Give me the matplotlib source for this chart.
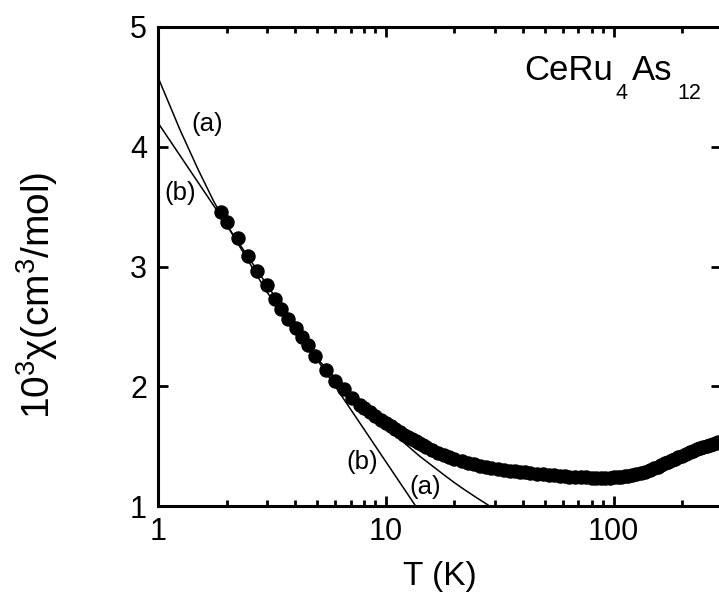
import matplotlib
matplotlib.use("Agg")
import matplotlib.pyplot as plt
from matplotlib.ticker import LogLocator, FixedLocator, NullFormatter, FixedFormatter

plt.rcParams['font.family'] = ['Liberation Sans', 'DejaVu Sans']
plt.rcParams['mathtext.fontset'] = 'custom'
plt.rcParams['mathtext.rm'] = 'Liberation Sans'
plt.rcParams['mathtext.it'] = 'Liberation Sans:italic'
plt.rcParams['mathtext.bf'] = 'Liberation Sans:bold'

# measured susceptibility (low T, discrete points)
T_low = [1.886, 2.004, 2.24, 2.494, 2.733, 3.005, 3.268, 3.473, 3.739, 4.029,
         4.281, 4.532, 4.898, 5.477, 5.998, 6.526, 7.1, 7.72]
chi_low = [3.453, 3.375, 3.236, 3.09, 2.961, 2.842, 2.731, 2.647, 2.564, 2.489,
           2.411, 2.342, 2.253, 2.133, 2.044, 1.975, 1.906, 1.842]

# measured susceptibility (dense part)
T_high = [8.0, 8.5, 9.0, 9.5, 10, 10.5, 11, 11.5, 12, 12.5, 13, 13.5, 14, 14.5, 15,
          16, 17, 18, 19, 20, 21.5, 23, 24.5, 26, 27.5, 29, 31, 33, 35, 37, 39, 41,
          43, 46, 49, 52, 55, 58, 61, 64, 68, 72, 76, 80, 84, 88, 92, 96, 100, 104,
          108, 112, 116, 120, 126, 132, 138, 144, 150, 156, 162, 168, 174, 180, 186,
          192, 200, 208, 216, 224, 232, 240, 248, 256, 264, 272, 280, 288, 296, 304]
chi_high = [1.818, 1.785, 1.752, 1.722, 1.693, 1.665, 1.640, 1.617, 1.595, 1.575,
            1.557, 1.540, 1.524, 1.509, 1.494, 1.466, 1.446, 1.427, 1.410, 1.393,
            1.375, 1.360, 1.347, 1.336, 1.326, 1.318, 1.309, 1.302, 1.296, 1.290,
            1.285, 1.281, 1.277, 1.270, 1.264, 1.259, 1.255, 1.251, 1.248, 1.245,
            1.242, 1.240, 1.238, 1.237, 1.236, 1.236, 1.236, 1.237, 1.238, 1.240,
            1.243, 1.247, 1.251, 1.256, 1.265, 1.276, 1.288, 1.301, 1.315, 1.328,
            1.342, 1.356, 1.369, 1.382, 1.394, 1.406, 1.421, 1.435, 1.449, 1.462,
            1.474, 1.485, 1.495, 1.504, 1.512, 1.520, 1.527, 1.533, 1.538, 1.543]

# fit curve (a)
T_fit_a = [1.0, 1.25, 1.5, 1.75, 2.0, 3.0, 4.0, 5.0, 7.0, 10, 12, 14, 16, 18, 20, 22, 25, 28, 30]
chi_fit_a = [4.58, 4.14, 3.81, 3.55, 3.35, 2.79, 2.46, 2.23, 1.93, 1.65, 1.53, 1.42,
             1.335, 1.26, 1.195, 1.14, 1.07, 1.01, 0.975]
# fit line (b)
T_fit_b = [1.0, 14.0]
chi_fit_b = [4.2, 0.957]

fig = plt.figure(figsize=(7.19, 5.94), dpi=100)
W, H = 719, 594
ax = fig.add_axes([158 / W, 1 - 506 / H, (721 - 158) / W, (506 - 27) / H])

ax.plot(T_fit_a, chi_fit_a, color='black', lw=1.1, zorder=2)
ax.plot(T_fit_b, chi_fit_b, color='black', lw=1.1, zorder=2)
ax.plot(T_low, chi_low, 'o', color='black', ms=9.4, mec='black', zorder=3)
ax.plot(T_high, chi_high, 'o', color='black', ms=9.4, mec='black', zorder=3)

ax.set_xscale('log')
ax.set_xlim(1, 296)
ax.set_ylim(1, 5)

ax.xaxis.set_major_locator(FixedLocator([1, 10, 100]))
ax.xaxis.set_major_formatter(FixedFormatter(['1', '10', '100']))
ax.xaxis.set_minor_locator(LogLocator(base=10, subs=(2, 3, 4, 5, 6, 7, 8, 9), numticks=10))
ax.xaxis.set_minor_formatter(NullFormatter())
ax.yaxis.set_major_locator(FixedLocator([1, 2, 3, 4, 5]))

for s in ax.spines.values():
    s.set_linewidth(2.2)
ax.tick_params(which='both', direction='in', top=True, right=True, width=2.0,
               labelsize=22, colors='black')
ax.tick_params(which='major', length=7, pad=8)
ax.tick_params(which='minor', length=4)

ax.set_xlabel('T (K)', fontsize=24, labelpad=10)
fig.text(37 / W, 1 - 295 / H, r'10$^3$χ(cm$^3$/mol)', fontsize=28, rotation=90,
         ha='center', va='center')

ax.text(1.642, 4.19, '(a)', fontsize=18.5, ha='center', va='center')
ax.text(1.249, 3.61, '(b)', fontsize=18.5, ha='center', va='center')
ax.text(7.86, 1.37, '(b)', fontsize=18.5, ha='center', va='center')
ax.text(14.9, 1.158, '(a)', fontsize=18.5, ha='center', va='center')

# compound name with Origin-style low subscripts
fig.text(613 / W, 1 - 80 / H, 'CeRu', fontsize=25, ha='right', va='baseline')
fig.text(615 / W, 1 - 99 / H, '4', fontsize=15.5, ha='left', va='baseline')
fig.text(632 / W, 1 - 80 / H, 'As', fontsize=25, ha='left', va='baseline')
fig.text(677 / W, 1 - 99 / H, '12', fontsize=15.5, ha='left', va='baseline')

fig.savefig('out.png', dpi=100)
